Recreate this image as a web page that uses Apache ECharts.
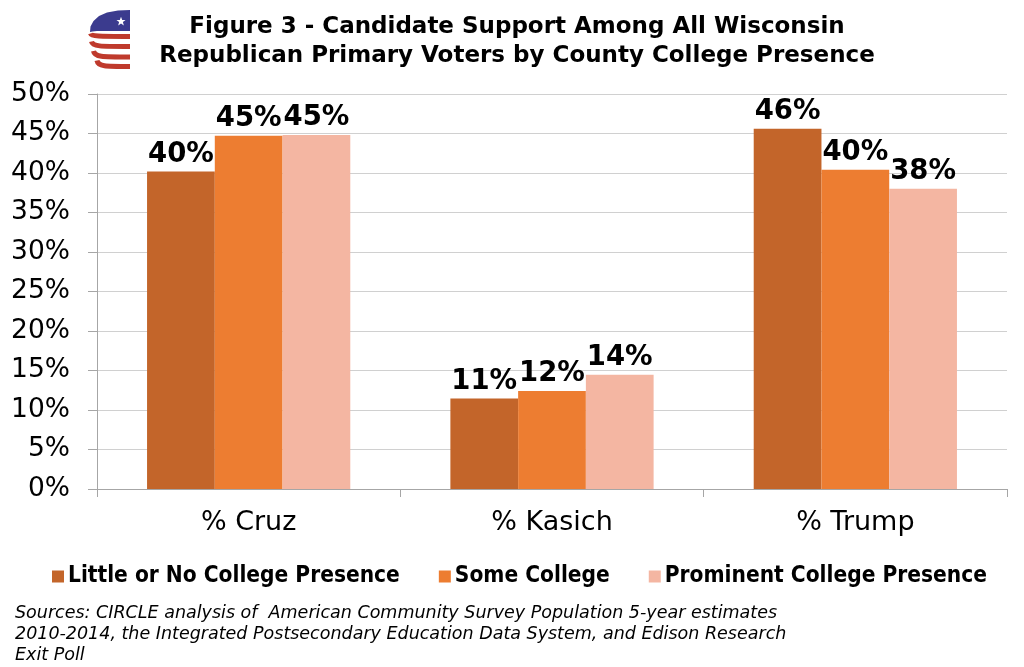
<!DOCTYPE html>
<html><head><meta charset="utf-8">
<script src="https://cdn.jsdelivr.net/npm/echarts@6/dist/echarts.min.js"></script>
<style>html,body{margin:0;padding:0;background:#fff}#c{width:1024px;height:667px}</style>
</head><body><div id="c"></div>
<script>
const categories = ['% Cruz', '% Kasich', '% Trump'];
const seriesNames = ['Little or No College Presence', 'Some College', 'Prominent College Presence'];
const littleNo = [40.2, 11.45, 45.6];
const someCollege = [44.7, 12.4, 40.4];
const prominent = [44.8, 14.45, 38.0];
const colors = ['#C3652A', '#ED7D31', '#F4B6A2'];
const titleText = 'Figure 3 - Candidate Support Among All Wisconsin\nRepublican Primary Voters by County College Presence';
const sourceText = 'Sources: CIRCLE analysis of  American Community Survey Population 5-year estimates\n2010-2014, the Integrated Postsecondary Education Data System, and Edison Research\nExit Poll';

const chart = echarts.init(document.getElementById('c'), null, {renderer: 'canvas'});
const mk = (name, data, i) => ({
  name, type: 'bar', data, barGap: '0%', barCategoryGap: '33%',
  itemStyle: {color: colors[i]},
  label: {show: true, position: 'top', distance: 3, formatter: p => Math.round(p.value) + '%',
    fontFamily: 'DejaVu Sans', fontWeight: 'bold', fontSize: 27.5, color: '#000'}
});
function starPts(cx, cy, R, r) {
  const pts = [];
  for (let k = 0; k < 10; k++) {
    const a = -Math.PI / 2 + k * Math.PI / 5;
    const rr = k % 2 ? r : R;
    pts.push([cx + rr * Math.cos(a), cy + rr * Math.sin(a)]);
  }
  return pts;
}
const red = '#BF3A2C';
const stripe = (lx, ly, yh) => ({
  type: 'bezierCurve', shape: {x1: lx, y1: ly, cpx1: lx + 1, cpy1: yh, cpx2: lx + 8, cpy2: yh, x2: 130, y2: yh},
  style: {stroke: red, lineWidth: 5, fill: null}
});
chart.setOption({
  animation: false,
  title: [
    {text: titleText, left: 512, textAlign: 'center', top: 8,
     textStyle: {fontFamily: 'DejaVu Sans', fontWeight: 'bold', fontSize: 23, lineHeight: 29, color: '#000'}},
    {text: sourceText, left: 15, top: 603, padding: 0,
     textStyle: {fontFamily: 'DejaVu Sans', fontStyle: 'italic', fontWeight: 'normal', fontSize: 17.5, lineHeight: 21, color: '#000'}}
  ],
  legend: {
    data: seriesNames, top: 560, left: 47, icon: 'rect', itemWidth: 12, itemHeight: 12, itemGap: 39,
    textStyle: {fontFamily: 'DejaVu Sans Condensed', fontWeight: 'bold', fontSize: 22.5, color: '#000', padding: [0,0,0,-1]}
  },
  grid: {left: 97, right: 17, top: 94, bottom: 178},
  xAxis: {
    type: 'category', data: categories,
    axisLine: {lineStyle: {color: '#a6a6a6', width: 1}},
    axisTick: {show: true, length: 8, lineStyle: {color: '#a6a6a6'}},
    axisLabel: {fontFamily: 'DejaVu Sans', fontSize: 27, color: '#000', margin: 20}
  },
  yAxis: {
    type: 'value', min: 0, max: 50, interval: 5,
    axisLine: {show: true, lineStyle: {color: '#a6a6a6'}},
    axisTick: {show: true, length: 9, lineStyle: {color: '#a6a6a6'}},
    splitLine: {lineStyle: {color: '#d0d0d0'}},
    axisLabel: {formatter: '{value}%', fontFamily: 'DejaVu Sans', fontSize: 26.5, color: '#000', margin: 27}
  },
  series: [mk(seriesNames[0], littleNo, 0), mk(seriesNames[1], someCollege, 1), mk(seriesNames[2], prominent, 2)],
  graphic: [
    {type: 'polygon', shape: {points: [[130,10],[118,10.5],[107,12.5],[99,16],[93.5,21],[90.5,26.5],[90,32],[92.5,31.5],[97,31],[105,31],[115,31],[130,31]]}, style: {fill: '#3B3B8E'}},
    stripe(90.5, 33.5, 36.5),
    stripe(91.5, 41.5, 46.5),
    stripe(93.5, 51, 57),
    stripe(97, 60.5, 66.5),
    {type: 'polygon', shape: {points: starPts(121, 21.5, 4.8, 2)}, style: {fill: '#fff'}}
  ]
});
</script></body></html>
